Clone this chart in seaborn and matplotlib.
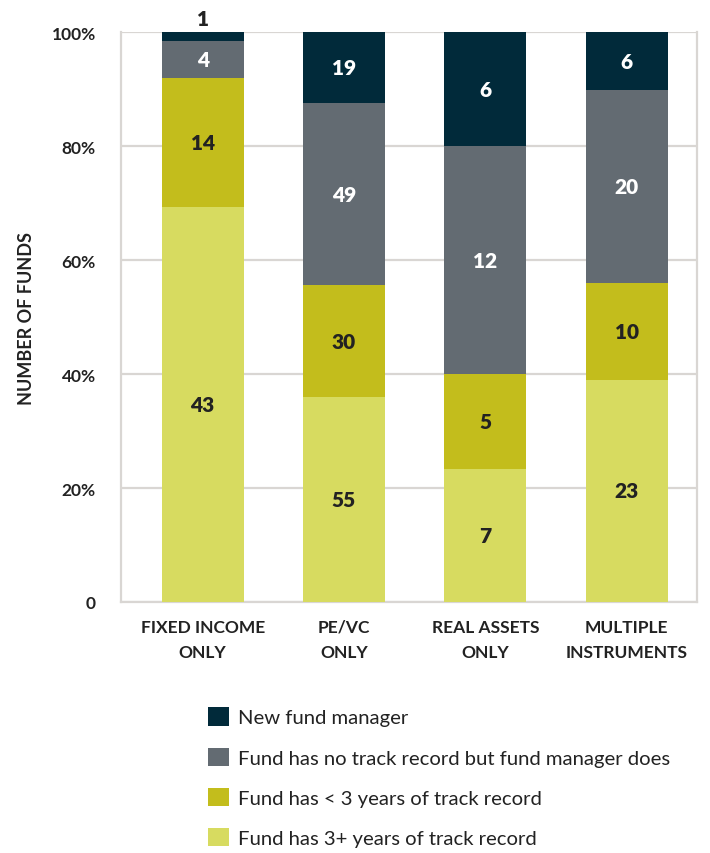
import numpy as np
import pandas as pd
import matplotlib
matplotlib.use("Agg")
import matplotlib.pyplot as plt
import seaborn as sns
from matplotlib.patches import Patch

categories = ["FIXED INCOME\nONLY", "PE/VC\nONLY", "REAL ASSETS\nONLY", "MULTIPLE\nINSTRUMENTS"]
three_plus = [43, 55, 7, 23]
under_three = [14, 30, 5, 10]
no_record = [4, 49, 12, 20]
new_mgr = [1, 19, 6, 6]

series_names = [
    "Fund has 3+ years of track record",
    "Fund has < 3 years of track record",
    "Fund has no track record but fund manager does",
    "New fund manager",
]
colors = ["#d7db60", "#c3bd1c", "#636b72", "#012a3a"]
text_colors = ["#222222", "#222222", "white", "white"]

sns.set_style("white")
plt.rcParams["font.family"] = ["Lato", "DejaVu Sans"]

counts = np.array([three_plus, under_three, no_record, new_mgr], dtype=float)
shares = counts / counts.sum(axis=0) * 100
tops = np.cumsum(shares, axis=0)
bottoms = tops - shares

fig = plt.figure(figsize=(7.1, 8.54), dpi=100)
ax = fig.add_axes([0.170, 0.294, 0.812, 0.667])

# draw tallest first so lower segments sit on top
for i in range(3, -1, -1):
    df = pd.DataFrame({"cat": categories, "val": tops[i]})
    sns.barplot(data=df, x="cat", y="val", color=colors[i], width=0.58,
                saturation=1, linewidth=0, ax=ax, zorder=3)

for i in range(4):
    for j in range(len(categories)):
        mid = bottoms[i, j] + shares[i, j] / 2
        col = text_colors[i]
        if shares[i, j] < 3:
            mid = tops[i, j] + 2.5
            col = "#222222"
        ax.text(j, mid, f"{int(counts[i, j])}", ha="center", va="center",
                fontsize=15, fontweight="heavy", color=col, zorder=5, clip_on=False)

ax.set_ylim(0, 100)
ax.set_xlim(-0.58, 3.5)
ax.set_yticks([0, 20, 40, 60, 80, 100])
ax.set_yticklabels(["0", "20%", "40%", "60%", "80%", "100%"])
ax.yaxis.grid(True, color="#d9d6d3", linewidth=1.6, zorder=0)
ax.set_axisbelow(True)
for s in ax.spines.values():
    s.set_color("#d9d6d3")
    s.set_linewidth(1.6)
ax.spines["top"].set_visible(False)
ax.tick_params(axis="both", length=0, labelsize=12.5, colors="#222222", pad=18)
ax.tick_params(axis="x", pad=12)
for lab in ax.get_xticklabels() + ax.get_yticklabels():
    lab.set_fontweight("bold")
for lab in ax.get_xticklabels():
    lab.set_linespacing(1.75)
ax.set_xlabel("")
ax.set_ylabel("NUMBER OF FUNDS", fontsize=13, fontweight="bold", color="#222222", labelpad=12)

handles = [Patch(facecolor=colors[i], edgecolor="none") for i in range(3, -1, -1)]
labels = [series_names[i] for i in range(3, -1, -1)]
fig.legend(handles, labels, loc="upper left", bbox_to_anchor=(0.282, 0.18),
           frameon=False, fontsize=14.6, handlelength=1.0, handleheight=1.0,
           handletextpad=0.45, labelspacing=1.05, borderaxespad=0, labelcolor="#222222")

fig.savefig("out.png", dpi=100)
